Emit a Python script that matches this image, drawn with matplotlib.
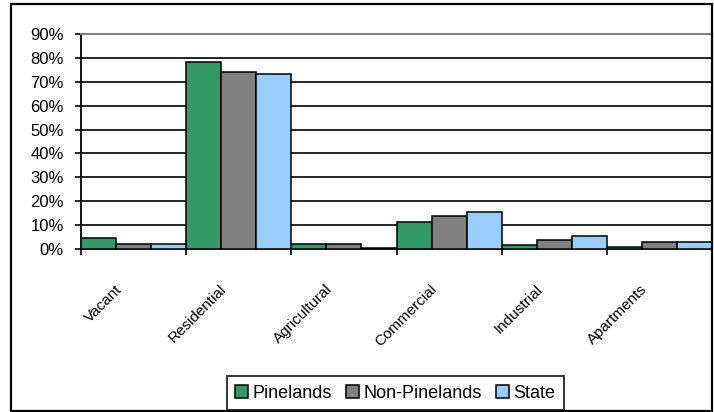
import numpy as np
import matplotlib
matplotlib.use("Agg")
import matplotlib.pyplot as plt
from matplotlib.patches import Rectangle
from matplotlib.transforms import ScaledTranslation

plt.rcParams['font.family'] = ['Liberation Sans', 'DejaVu Sans']

categories = ['Vacant', 'Residential', 'Agricultural', 'Commercial', 'Industrial', 'Apartments']
series_names = ['Pinelands', 'Non-Pinelands', 'State']
pinelands = [4.6, 78.1, 2.0, 11.4, 1.8, 1.0]
non_pinelands = [2.1, 74.2, 2.0, 13.7, 3.6, 3.1]
state = [2.1, 73.1, 0.6, 15.4, 5.6, 3.1]
colors = ['#339966', '#808080', '#99CCFF']

W, H = 714, 412
fig = plt.figure(figsize=(W / 100, H / 100), dpi=100)
ax = fig.add_axes([81 / W, 1 - 249 / H, (712 - 81) / W, (249 - 34) / H])

# bars: three per category, no gap
n = len(categories)
x = np.arange(n)
bw = 1 / 3
for j, (vals, name) in enumerate(zip([pinelands, non_pinelands, state], series_names)):
    ax.bar(x + (j + 0.5) * bw, vals, width=bw, color=colors[j], edgecolor='black',
           linewidth=1.1, label=name, zorder=3)

ax.set_xlim(0, n)
ax.set_ylim(0, 90)
ax.set_yticks(np.arange(0, 91, 10))
ax.set_yticklabels([f'{v}%' for v in range(0, 91, 10)], fontsize=12)
for v in range(10, 90, 10):
    ax.axhline(v, color='black', lw=1.2, zorder=1)

ax.set_xticks(x + 0.5)
ax.set_xticklabels(categories, fontsize=11, rotation=45,
                   ha='right', va='top', rotation_mode='anchor')
ax.set_xticks(np.arange(n + 1), minor=True)
ax.tick_params(axis='x', which='major', length=0, pad=24)
ax.tick_params(axis='x', which='minor', length=4, width=1.2, direction='out')
ax.tick_params(axis='y', length=4.5, width=1.2, direction='out', pad=8)
for lab in ax.get_xticklabels():
    lab.set_transform(lab.get_transform() + ScaledTranslation(-0.19, 0, fig.dpi_scale_trans))

for s in ['left', 'bottom']:
    ax.spines[s].set_color('black')
    ax.spines[s].set_linewidth(1.3)
for s in ['top', 'right']:
    ax.spines[s].set_color('#808080')
    ax.spines[s].set_linewidth(1.5)

leg = fig.legend(loc='center', bbox_to_anchor=(395.5 / W, 1 - 393 / H), ncol=3,
                 fontsize=13, frameon=True, fancybox=False, handlelength=0.7,
                 handleheight=0.7, handletextpad=0.25, columnspacing=0.8,
                 borderpad=0.45, borderaxespad=0)
leg.get_frame().set_edgecolor('black')
leg.get_frame().set_linewidth(1.4)

# outer chart border
fig.patches.append(Rectangle((11 / W, 1 / H), (712 - 11) / W, (407 - 0) / H,
                             transform=fig.transFigure, fill=False,
                             edgecolor='black', linewidth=1.6))

fig.savefig('out.png', dpi=100)
